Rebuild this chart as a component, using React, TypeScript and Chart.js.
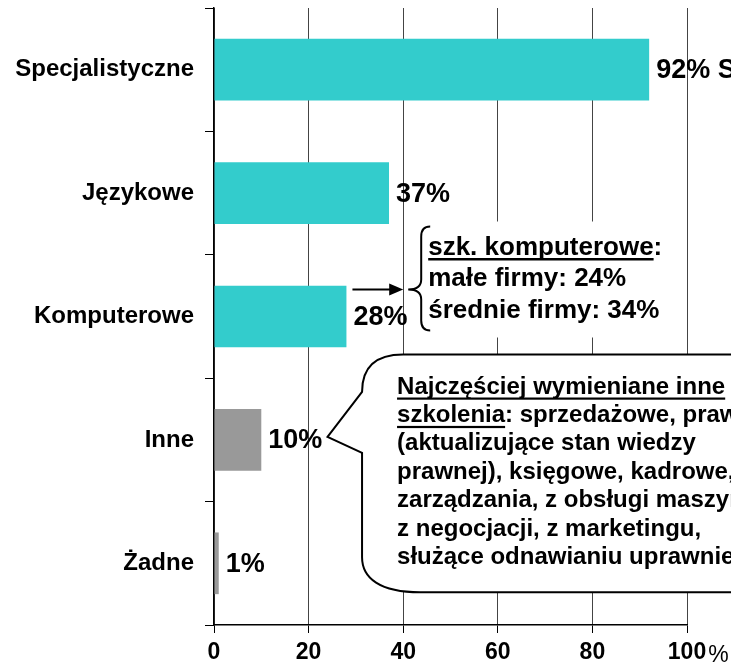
import React, { useEffect, useRef } from 'react';
import { Chart, registerables } from 'chart.js';

Chart.register(...registerables);

// ---- data ----
const categories = ['Specjalistyczne', 'Językowe', 'Komputerowe', 'Inne', 'Żadne'];
const values = [92, 37, 28, 10, 1];
const barColors = ['#33CCCC', '#33CCCC', '#33CCCC', '#999999', '#999999'];
const xMin = 0;
const xMax = 100;
const xStep = 20;
const xUnit = '%';
const firstLabelSuffix = ' S';
const braceTitle = 'szk. komputerowe';
const braceLines = ['małe firmy: 24%', 'średnie firmy: 34%'];
const bubbleTitle1 = 'Najczęściej wymieniane inne';
const bubbleTitle2 = 'szkolenia';
const bubbleRest2 = ': sprzedażowe, prawne';
const bubbleLines = [
  '(aktualizujące stan wiedzy',
  'prawnej), księgowe, kadrowe,',
  'zarządzania, z obsługi maszyn,',
  'z negocjacji, z marketingu,',
  'służące odnawianiu uprawnień',
];

const FONT = 'Arial, "Liberation Sans", sans-serif';

const annotationPlugin = {
  id: 'annotations',
  afterDatasetsDraw(chart: any) {
    const { ctx } = chart;
    const xs = chart.scales.x;
    const ys = chart.scales.y;
    const px = (v: number) => xs.getPixelForValue(v);
    const cy = (i: number) => ys.getPixelForValue(i);
    const meta = chart.getDatasetMeta(0);
    ctx.save();

    // ---- brace annotation (computer trainings) ----
    const arrowY = cy(2) - 27;
    const tipX = px(40) + 5;
    const braceTop = arrowY - 63;
    const braceBottom = arrowY + 41;
    const textX = px(40) + 25;
    ctx.fillStyle = '#ffffff';
    ctx.fillRect(tipX + 2, braceTop - 5, px(100) - 3 - (tipX + 2), braceBottom - braceTop + 12);

    // arrow
    ctx.strokeStyle = '#000';
    ctx.fillStyle = '#000';
    ctx.lineWidth = 2;
    ctx.beginPath();
    ctx.moveTo(px(28) + 6, arrowY);
    ctx.lineTo(px(40) - 12, arrowY);
    ctx.stroke();
    ctx.beginPath();
    ctx.moveTo(px(40), arrowY);
    ctx.lineTo(px(40) - 14, arrowY - 6);
    ctx.lineTo(px(40) - 14, arrowY + 6);
    ctx.closePath();
    ctx.fill();

    // brace
    const armX = tipX + 13;
    ctx.beginPath();
    ctx.moveTo(tipX + 22, braceTop);
    ctx.quadraticCurveTo(armX, braceTop, armX, braceTop + 10);
    ctx.lineTo(armX, arrowY - 10);
    ctx.quadraticCurveTo(armX, arrowY, tipX, arrowY);
    ctx.quadraticCurveTo(armX, arrowY, armX, arrowY + 10);
    ctx.lineTo(armX, braceBottom - 10);
    ctx.quadraticCurveTo(armX, braceBottom, tipX + 22, braceBottom);
    ctx.stroke();

    // brace text
    ctx.font = `bold 26px ${FONT}`;
    ctx.textAlign = 'left';
    ctx.textBaseline = 'alphabetic';
    const b0 = braceTop + 28;
    ctx.fillText(braceTitle, textX, b0);
    const wTitle = ctx.measureText(braceTitle).width;
    ctx.fillText(':', textX + wTitle, b0);
    ctx.fillRect(textX, b0 + 3.5, wTitle, 2.5);
    braceLines.forEach((t, i) => ctx.fillText(t, textX, b0 + 31.5 * (i + 1)));

    // ---- speech bubble (other trainings) ----
    const L = px(31.3);
    const T = cy(2) + 38;
    const B = cy(4) + 29;
    const R = chart.width + 40;
    const pHigh = cy(3) - 48;
    const pLow = cy(3) + 13;
    const tipBX = px(24);
    const tipBY = cy(3) - 3;
    ctx.beginPath();
    ctx.moveTo(L + 41, T);
    ctx.lineTo(R, T);
    ctx.lineTo(R, B);
    ctx.lineTo(L + 58, B);
    ctx.bezierCurveTo(L + 18, B, L, B - 14, L, B - 35);
    ctx.lineTo(L, pLow);
    ctx.lineTo(tipBX, tipBY);
    ctx.lineTo(L, pHigh);
    ctx.bezierCurveTo(L, T + 12, L + 14, T, L + 41, T);
    ctx.closePath();
    ctx.fillStyle = '#ffffff';
    ctx.fill();
    ctx.strokeStyle = '#000';
    ctx.lineWidth = 2;
    ctx.stroke();

    ctx.fillStyle = '#000';
    ctx.font = `bold 24px ${FONT}`;
    const bx = L + 35;
    const by0 = T + 39;
    const lh = 28.4;
    ctx.fillText(bubbleTitle1, bx, by0);
    ctx.fillRect(bx, by0 + 4, ctx.measureText(bubbleTitle1).width, 2.2);
    ctx.fillText(bubbleTitle2, bx, by0 + lh);
    const w2 = ctx.measureText(bubbleTitle2).width;
    ctx.fillRect(bx, by0 + lh + 4, w2, 2.2);
    ctx.fillText(bubbleRest2, bx + w2, by0 + lh);
    bubbleLines.forEach((t, i) => ctx.fillText(t, bx, by0 + lh * (i + 2)));

    // ---- value labels ----
    ctx.font = `bold 27px ${FONT}`;
    ctx.textBaseline = 'middle';
    meta.data.forEach((bar: any, i: number) => {
      const label = `${values[i]}%` + (i === 0 ? firstLabelSuffix : '');
      ctx.fillText(label, bar.x + 7, bar.y + 1);
    });

    // ---- unit after last x tick ----
    ctx.font = `bold 23px ${FONT}`;
    const wLast = ctx.measureText(String(xMax)).width;
    ctx.font = `23px ${FONT}`;
    ctx.textBaseline = 'middle';
    ctx.fillText(xUnit, px(xMax) + wLast / 2 + 2, xs.top + 31);

    ctx.restore();
  },
};

export default function App() {
  const ref = useRef<HTMLCanvasElement | null>(null);

  useEffect(() => {
    if (!ref.current) return;
    const chart = new Chart(ref.current, {
      type: 'bar',
      data: {
        labels: categories,
        datasets: [
          {
            data: values,
            backgroundColor: barColors,
            borderWidth: 0,
            barPercentage: 0.5,
            categoryPercentage: 1,
          },
        ],
      },
      options: {
        indexAxis: 'y',
        responsive: false,
        animation: false,
        devicePixelRatio: 1,
        layout: { padding: { left: 0, right: 44, top: 8, bottom: 0 } },
        plugins: {
          legend: { display: false },
          tooltip: { enabled: false },
        },
        scales: {
          x: {
            type: 'linear',
            min: xMin,
            max: xMax,
            afterFit: (s: any) => {
              s.height = 46;
              s.paddingLeft = 0;
              s.paddingRight = 0;
            },
            ticks: {
              stepSize: xStep,
              color: '#000',
              padding: 6,
              font: { family: FONT, weight: 'bold', size: 23 },
            },
            grid: {
              color: '#444',
              lineWidth: 1,
              tickLength: 8,
              tickColor: '#000',
            },
            border: { display: true, color: '#000', width: 1.5 },
          },
          y: {
            type: 'category',
            offset: true,
            afterFit: (s: any) => {
              s.width = 214;
              s.paddingTop = 0;
              s.paddingBottom = 0;
            },
            ticks: {
              color: '#000',
              padding: 11,
              font: { family: FONT, weight: 'bold', size: 24 },
            },
            grid: {
              offset: true,
              drawOnChartArea: false,
              tickLength: 9,
              tickColor: '#000',
            },
            border: { display: true, color: '#000', width: 1.5 },
          },
        },
      },
      plugins: [annotationPlugin],
    } as any);
    return () => chart.destroy();
  }, []);

  return (
    <div style={{ position: 'absolute', left: 0, top: 0, width: 731, height: 671, overflow: 'hidden', background: '#fff' }}>
      <canvas ref={ref} width={731} height={671} style={{ display: 'block' }} />
    </div>
  );
}
